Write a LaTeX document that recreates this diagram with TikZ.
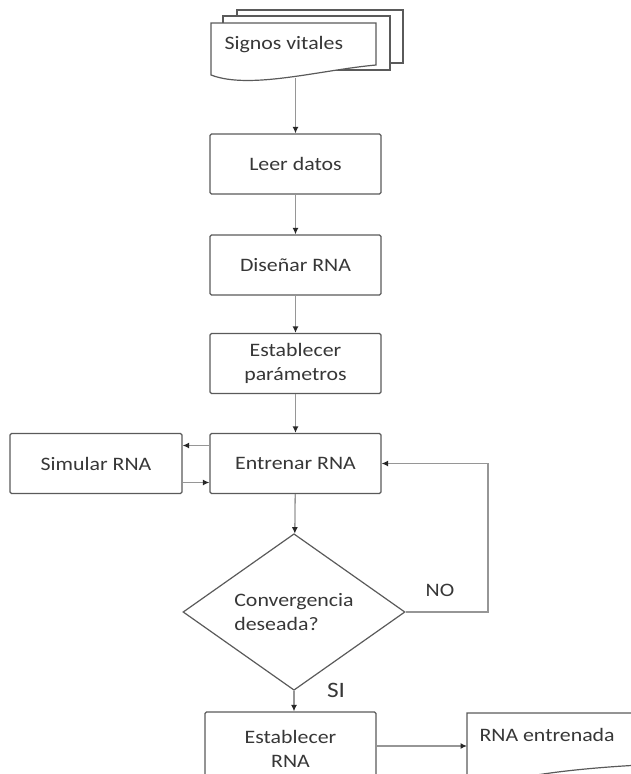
\documentclass[tikz,border=0pt]{standalone}
\usepackage{fontspec}
\setmainfont{Carlito}[FakeStretch=1.15]
\usetikzlibrary{shapes.geometric,arrows.meta,calc}
\definecolor{boxc}{RGB}{90,90,90}
\definecolor{linec}{RGB}{150,150,150}
\definecolor{txtc}{RGB}{55,55,55}
\definecolor{tipc}{RGB}{40,40,40}
\tikzset{
 proc/.style={draw=boxc, line width=1.2pt, rounded corners=1.5pt, fill=white,
   minimum width=171pt, minimum height=60pt, inner sep=0pt, align=center},
 conn/.style={draw=linec, line width=1.3pt, -{Latex[length=6.5pt,width=6pt,color=tipc]}},
 docline/.style={draw=boxc, line width=1.2pt, fill=white}
}
\begin{document}
\begin{tikzpicture}[x=1pt,y=-1pt,font=\fontsize{19}{24}\selectfont,text=txtc]
\useasboundingbox (0,0) rectangle (631,774);
\clip (0,0) rectangle (631,774);
% multi-document
\path[docline] (237,10) rectangle (403,63);
\path[docline] (223,16) rectangle (390,70);
\path[docline] (211,23) -- (376,23) -- (376,65) .. controls (320,70) and (250,90) .. (211,75) -- cycle;
\node[anchor=west] (sig) at (221,45) {Signos vitales};
\coordinate (sigb) at (295.5,78);
% process boxes
\node[proc] (leer) at (295.5,164) {Leer datos};
\node[proc] (dis) at (295.5,265) {Diseñar RNA};
\node[proc] (par) at (295.5,363.5) {Establecer\\parámetros};
\node[proc] (ent) at (295.5,463.5) {Entrenar RNA};
\node[proc, minimum width=172pt] (sim) at (96,463.5) {Simular RNA};
\node[diamond, draw=boxc, line width=1.2pt, minimum width=222pt, minimum height=150pt,
      inner sep=0pt, align=left] (conv) at (294,612) {Convergencia\\deseada?};
\node[proc, minimum height=74pt] (est) at (290.5,749) {Establecer\\RNA};
% RNA entrenada document
\path[docline] (467,800) -- (467,713) -- (720,713) -- (720,762) .. controls (640,764) and (560,768) .. (500,782) -- (467,790);
\node[anchor=west] (rnae) at (476,735) {RNA entrenada};
\coordinate (rneL) at (467,746);
% connectors
\draw[conn] (sigb) -- (leer);
\draw[conn] (leer) -- (dis);
\draw[conn] (dis) -- (par);
\draw[conn] (par) -- (ent);
\draw[conn] (ent) -- (conv);
\draw[conn] (conv.south) -- (conv.south |- est.north);
\draw[conn] ([yshift=18pt]ent.west) -- ([yshift=18pt]ent.west -| sim.east);
\draw[conn] ([yshift=-19pt]sim.east) -- ([yshift=-19pt]sim.east -| ent.west);
\coordinate (loop) at (488,612);
\draw[conn] (conv.east) -- (loop) |- (ent.east);
\draw[conn] (est.east |- rneL) -- (rneL);
% labels
\node (no) at (440,590) {NO};
\node[font=\fontsize{22}{26}\selectfont] (si) at (336,690) {SI};
\end{tikzpicture}
\end{document}
